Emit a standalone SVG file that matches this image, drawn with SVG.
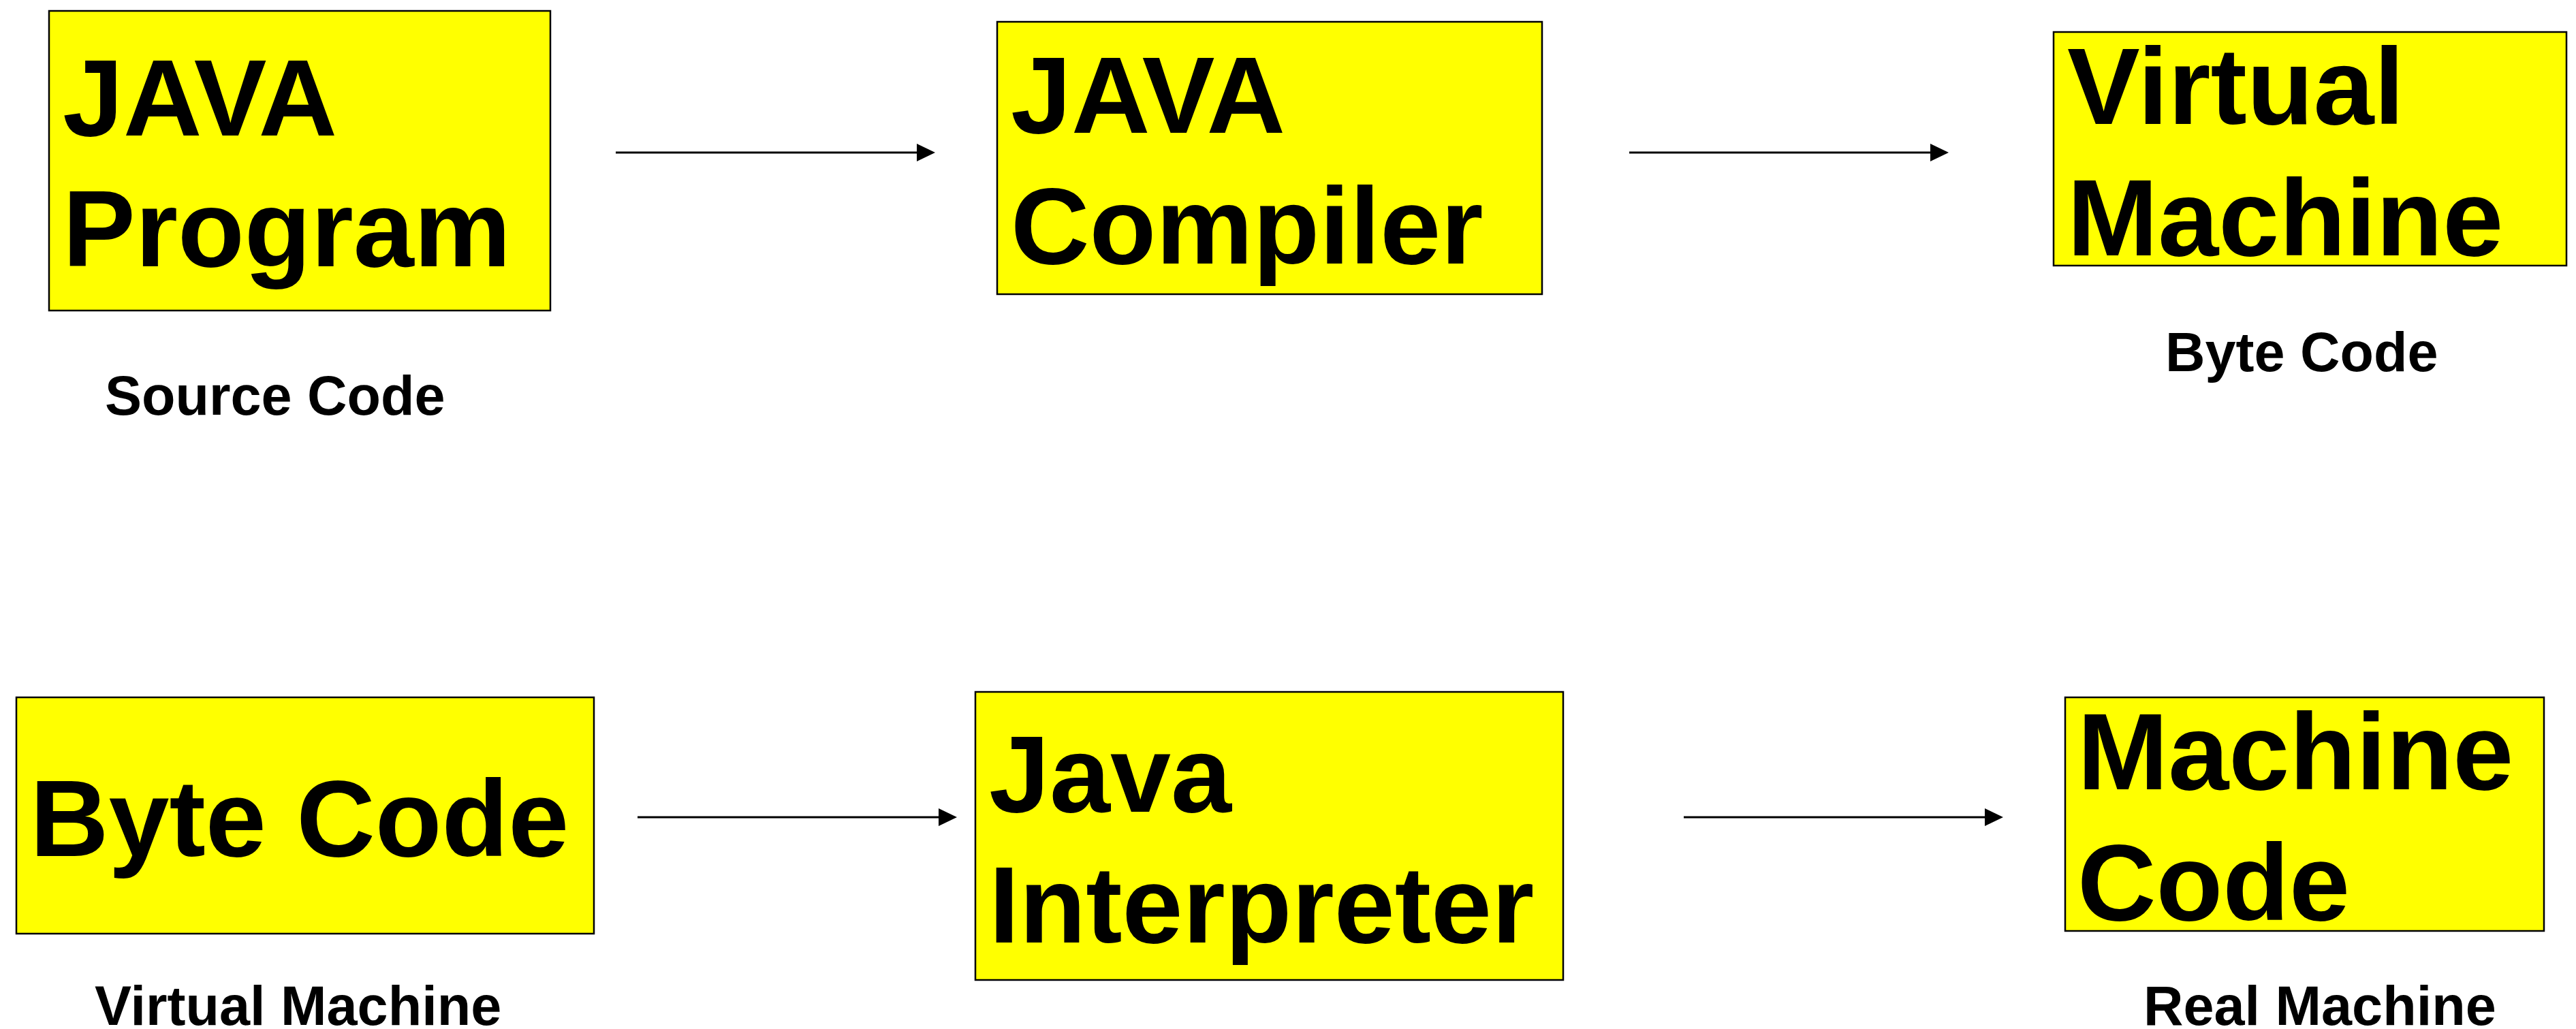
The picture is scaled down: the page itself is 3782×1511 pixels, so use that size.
<svg xmlns="http://www.w3.org/2000/svg" width="3782" height="1511" viewBox="0 0 3782 1511">
<style>
.box{fill:#ffff00;stroke:#000;stroke-width:2.5}
.big{font-family:"Liberation Sans",Arial,sans-serif;font-weight:bold;font-size:160px;fill:#000}
.lbl{font-family:"Liberation Sans",Arial,sans-serif;font-weight:bold;font-size:81px;fill:#000}
.conn{stroke:#000;stroke-width:3;fill:none}
</style>
<defs>
<marker id="ah" markerUnits="userSpaceOnUse" markerWidth="28" markerHeight="28" refX="0" refY="13" orient="auto">
<path d="M0,0 L27,13 L0,26 Z" fill="#000"/>
</marker>
</defs>
<rect width="3782" height="1511" fill="#fff"/>
<g id="n1">
<rect class="box" x="72" y="16" width="736" height="440"/>
<text class="big" x="92" y="199">JAVA</text>
<text class="big" x="92" y="391">Program</text>
</g>
<text id="l1" class="lbl" x="154" y="609">Source Code</text>
<g id="n2">
<rect class="box" x="1464" y="32" width="800" height="400"/>
<text class="big" x="1484" y="195">JAVA</text>
<text class="big" x="1484" y="387">Compiler</text>
</g>
<g id="n3">
<rect class="box" x="3015" y="47" width="753" height="343"/>
<text class="big" x="3035" y="182">Virtual</text>
<text class="big" x="3035" y="375">Machine</text>
</g>
<text id="l3" class="lbl" x="3179" y="545">Byte Code</text>
<g id="n4">
<rect class="box" x="24" y="1024" width="848" height="347"/>
<text class="big" x="44" y="1257">Byte Code</text>
</g>
<text id="l4" class="lbl" x="139" y="1505">Virtual Machine</text>
<g id="n5">
<rect class="box" x="1432" y="1016" width="863" height="423"/>
<text class="big" x="1452" y="1192">Java</text>
<text class="big" x="1452" y="1384">Interpreter</text>
</g>
<g id="n6">
<rect class="box" x="3032" y="1024" width="703" height="343"/>
<text class="big" x="3050" y="1159">Machine</text>
<text class="big" x="3050" y="1351">Code</text>
</g>
<text id="l6" class="lbl" x="3147" y="1505">Real Machine</text>
<g id="connectors">
<line class="conn" x1="904" y1="224" x2="1346" y2="224" marker-end="url(#ah)"/>
<line class="conn" x1="2392" y1="224" x2="2834" y2="224" marker-end="url(#ah)"/>
<line class="conn" x1="936" y1="1200" x2="1378" y2="1200" marker-end="url(#ah)"/>
<line class="conn" x1="2472" y1="1200" x2="2914" y2="1200" marker-end="url(#ah)"/>
</g>
</svg>
